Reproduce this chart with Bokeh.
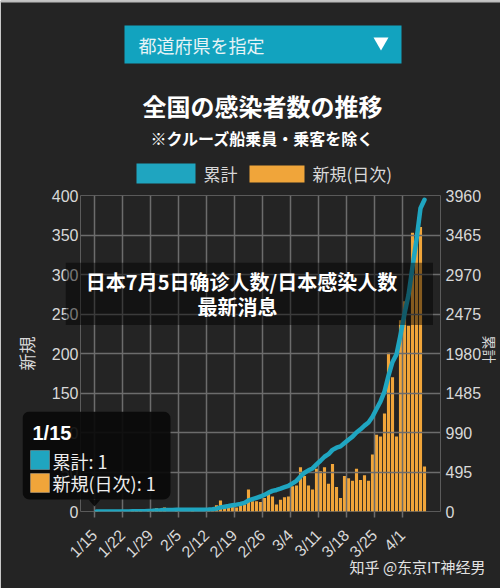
import math
import numpy as np
from bokeh.plotting import figure
from bokeh.layouts import column
from bokeh.models import (Range1d, LinearAxis, FixedTicker, Label, BoxAnnotation,
                          PolyAnnotation, ColumnDataSource)
from bokeh.embed import file_html
from bokeh.resources import INLINE

# ---------------- data ----------------
tick_days = [0, 7, 14, 21, 28, 35, 42, 49, 56, 63, 70, 77]
tick_labels = ["1/15", "1/22", "1/29", "2/5", "2/12", "2/19", "2/26",
               "3/4", "3/11", "3/18", "3/25", "4/1"]

# daily new cases, one value per day from 1/15 to 4/6
daily_new = [1, 0, 0, 0, 0, 0, 0, 0, 0, 1,
             1, 1, 0, 3, 1, 4, 3, 5, 0, 0,
             2, 0, 0, 0, 1, 0, 0, 0, 1, 4,
             8, 14, 5, 6, 7, 5, 8, 9, 28, 13,
             13, 12, 17, 26, 19, 9, 15, 18, 19, 32,
             33, 56, 45, 33, 28, 54, 51, 56, 35, 60,
             31, 17, 45, 42, 39, 54, 40, 46, 39, 72,
             97, 95, 124, 201, 170, 95, 242, 266, 235, 353,
             340, 360, 57]

# cumulative cases (right axis)
cumulative = [1, 1, 1, 1, 1, 1, 1, 1, 1,
              2, 3, 4, 4, 7, 8, 12, 15, 20,
              20, 20, 22, 22, 22, 22, 23, 23, 23, 23,
              24, 28, 36, 52, 60, 68, 78, 86, 96, 108,
              140, 156, 172, 188, 208, 236, 258, 270, 286, 304,
              322, 352, 384, 440, 486, 516, 540, 590, 636, 686,
              718, 772, 800, 816, 858, 900, 938, 990, 1030, 1076,
              1115, 1187, 1284, 1379, 1503, 1704, 1874, 1969, 2211, 2477,
              2712, 3065, 3405, 3800, 3906]

left_ticks = [0, 50, 100, 150, 200, 250, 300, 350, 400]
right_ticks = [0, 495, 990, 1485, 1980, 2475, 2970, 3465, 3960]

# ---------------- style ----------------
BG = "#242424"
GRID = "#6c6c6c"
TEAL = "#1FA5C0"
ORANGE = "#F0A53A"
TXT = "#D8D8D8"
NUMFONT = "Liberation Sans"
JPFONT = "Noto Sans CJK JP"
SCFONT = "Noto Sans CJK SC"

W, H = 500, 588


def lab(f, h, x, y, text, size, color="#FFFFFF", font=JPFONT, style="normal",
        align="left", baseline="middle", angle=0, alpha=1.0):
    """Label in screen pixels, y measured from the top of figure f (height h)."""
    f.add_layout(Label(x=x, y=h - y, x_units="screen", y_units="screen", text=text,
                       text_font=font, text_font_size=size, text_font_style=style,
                       text_color=color, text_align=align, text_baseline=baseline,
                       angle=angle, text_alpha=alpha))


def box(f, h, l, r, t, b, color, alpha=1.0, radius=0, line=None):
    f.add_layout(BoxAnnotation(left=l, right=r, top=h - t, bottom=h - b,
                               left_units="screen", right_units="screen",
                               top_units="screen", bottom_units="screen",
                               fill_color=color, fill_alpha=alpha,
                               line_color=line, line_width=1,
                               border_radius=radius))


def poly(f, h, xs, ys, color, alpha=1.0):
    f.add_layout(PolyAnnotation(xs=xs, ys=[h - y for y in ys],
                                xs_units="screen", ys_units="screen",
                                fill_color=color, fill_alpha=alpha, line_color=None))


def overlay(left, top, w, h):
    f = figure(width=w, height=h, output_backend="svg", toolbar_location=None,
               title=None, x_range=Range1d(0, w), y_range=Range1d(0, h),
               x_axis_location=None, y_axis_location=None, min_border=0,
               outline_line_color=None, frame_align=False,
               styles={"position": "absolute", "left": f"{left}px",
                       "top": f"{top}px", "z-index": "10"})
    f.background_fill_alpha = 0
    f.border_fill_alpha = 0
    f.grid.visible = False
    return f


# ---------------- main chart ----------------
p = figure(width=W, height=H, output_backend="svg", toolbar_location=None,
           title=None, frame_align=False,
           x_range=Range1d(-3.5, 86.5), y_range=Range1d(0, 400),
           min_border_left=80, min_border_right=60,
           min_border_top=195, min_border_bottom=77,
           background_fill_color=BG, border_fill_color=BG,
           outline_line_color=None)

p.extra_y_ranges = {"cum": Range1d(0, 3960)}

days = np.arange(len(daily_new))
src = ColumnDataSource(dict(x=days + 0.5, new=daily_new, cum=cumulative))

bars = p.vbar(x="x", top="new", width=0.78, source=src,
              fill_color=ORANGE, line_color=None)
bars.level = "image"

p.line(x="x", y="cum", source=src, y_range_name="cum",
       line_color=TEAL, line_width=4.5, line_cap="round", line_join="round")

xa = p.xaxis[0]
xa.ticker = FixedTicker(ticks=tick_days)
xa.major_label_overrides = {d: l for d, l in zip(tick_days, tick_labels)}
xa.major_label_orientation = math.pi / 4
xa.axis_line_color = None
xa.major_tick_line_color = GRID
xa.major_tick_line_width = 1.5
xa.major_tick_out = 6
xa.major_tick_in = 0
xa.minor_tick_line_color = None
xa.major_label_text_color = TXT
xa.major_label_text_font = NUMFONT
xa.major_label_text_font_size = "16px"
xa.major_label_standoff = 15

ya = p.yaxis[0]
ya.ticker = FixedTicker(ticks=left_ticks)
ya.axis_line_color = None
ya.major_tick_line_color = None
ya.major_tick_out = 0
ya.major_tick_in = 0
ya.minor_tick_line_color = None
ya.major_label_text_color = TXT
ya.major_label_text_font = NUMFONT
ya.major_label_text_font_size = "16px"
ya.major_label_standoff = 2
ya.axis_label = "新規"
ya.axis_label_text_font = JPFONT
ya.axis_label_text_font_style = "normal"
ya.axis_label_text_font_size = "17px"
ya.axis_label_text_color = TXT
ya.axis_label_standoff = 10

ra = LinearAxis(y_range_name="cum", ticker=FixedTicker(ticks=right_ticks))
ra.axis_line_color = None
ra.major_tick_line_color = None
ra.major_tick_out = 0
ra.major_tick_in = 0
ra.minor_tick_line_color = None
ra.major_label_text_color = TXT
ra.major_label_text_font = NUMFONT
ra.major_label_text_font_size = "16px"
ra.major_label_standoff = 5
p.add_layout(ra, "right")

p.xgrid.ticker = FixedTicker(ticks=tick_days)
p.grid.grid_line_color = GRID
p.grid.grid_line_width = 1.5

# ---------------- header (overlay on the top border) ----------------
HD_H = 185
hd = overlay(0, 0, W, HD_H)
box(hd, HD_H, 0, W, 0, 2, "#BDBDBD")
box(hd, HD_H, 124, 401, 25, 63, "#12A3BF")
lab(hd, HD_H, 138, 44, "都道府県を指定", "18px", color="#E6F3F6")
poly(hd, HD_H, [373, 388, 380.5], [37, 37, 50], "#FFFFFF")
lab(hd, HD_H, 262, 105, "全国の感染者数の推移", "24px", style="bold", align="center")
lab(hd, HD_H, 262, 137, "※クルーズ船乗員・乗客を除く", "16px", style="bold", align="center")
box(hd, HD_H, 136, 195, 163, 183, TEAL)
lab(hd, HD_H, 203, 173, "累計", "17px", color=TXT)
box(hd, HD_H, 249, 304, 165, 182, ORANGE)
lab(hd, HD_H, 312, 173, "新規(日次)", "17px", color=TXT)

# right axis name, squeezed against the window edge
rl_w, rl_h = 22, 60
rl = overlay(478, 318, rl_w, rl_h)
lab(rl, rl_h, 11.5, 31, "累計", "14px", color=TXT, angle=-math.pi / 2,
    align="center")

# banner
bn_w, bn_h = 368, 63
bn = overlay(65, 262, bn_w, bn_h)
box(bn, bn_h, 0, bn_w, 0, bn_h, "#000000", alpha=0.45)
lab(bn, bn_h, 176, 19, "日本7月5日确诊人数/日本感染人数", "20px", style="bold",
    align="center", font=SCFONT)
lab(bn, bn_h, 172, 44, "最新消息", "20px", style="bold", align="center", font=SCFONT)

# tooltip
tp_w, tp_h = 150, 96
tp = overlay(22, 411, tp_w, tp_h)
box(tp, tp_h, 0, 148, 0, 88, "#0A0A0A", alpha=0.92, radius=7)
poly(tp, tp_h, [66, 78, 72], [88, 88, 95], "#0A0A0A", alpha=0.92)
lab(tp, tp_h, 10, 21, "1/15", "20px", style="bold", font=NUMFONT)
box(tp, tp_h, 8, 27, 39, 58, TEAL, line="#DDDDDD")
lab(tp, tp_h, 30, 49, "累計: 1", "18px", color="#EEEEEE")
box(tp, tp_h, 8, 27, 62, 81, ORANGE, line="#DDDDDD")
lab(tp, tp_h, 30, 71, "新規(日次): 1", "18px", color="#EEEEEE")

# watermark
wm_w, wm_h = 160, 24
wm = overlay(330, 554, wm_w, wm_h)
lab(wm, wm_h, 155, 12, "知乎 @东京IT神经男", "15px", color="#E2E2E2", align="right",
    font=SCFONT)

root = column(p, hd, rl, bn, tp, wm, spacing=0)
open("out.html", "w").write(file_html(root, INLINE, title="chart"))
